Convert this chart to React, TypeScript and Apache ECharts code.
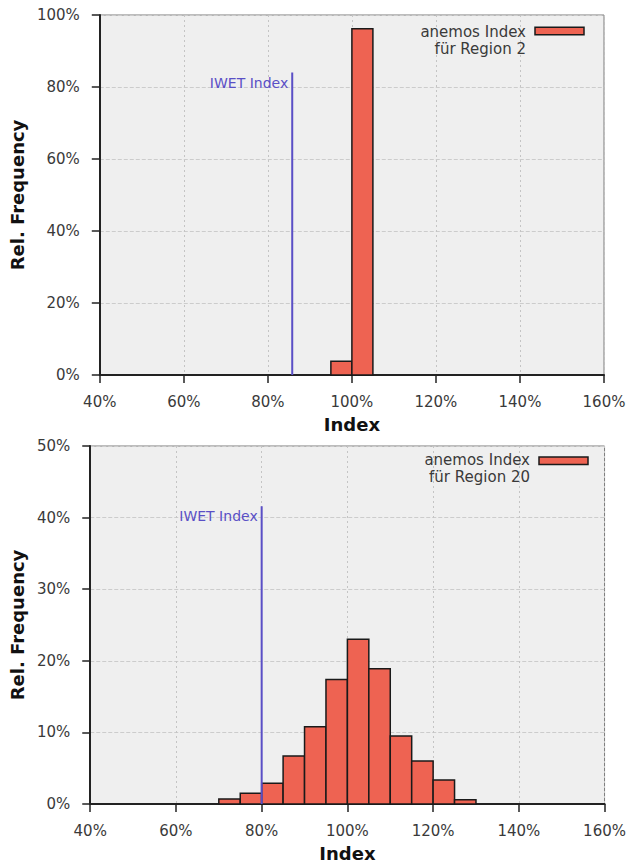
import React, { useEffect, useRef } from "react";
import * as echarts from "echarts";

// ---- data ----
const BIN_WIDTH = 5; // % per histogram bin
const xTicks = [40, 60, 80, 100, 120, 140, 160];

const region2Name = "anemos Index\nfür Region 2";
const region2BinStart = [95, 100];
const region2Freq = [3.8, 96.2];
const region2Iwet = 85.8; // IWET index (x)
const region2IwetTop = 84; // line height (y)

const region20Name = "anemos Index\nfür Region 20";
const region20BinStart = [70, 75, 80, 85, 90, 95, 100, 105, 110, 115, 120, 125];
const region20Freq = [0.7, 1.5, 2.9, 6.7, 10.8, 17.4, 23.0, 18.9, 9.5, 6.0, 3.35, 0.6];
const region20Iwet = 80;
const region20IwetTop = 41.6;

const iwetLabel = "IWET Index";

const FONT = "DejaVu Sans";
const BAR_COLOR = "#ee6352";
const IWET_COLOR = "#5a4fc6";

export default function App() {
  const ref = useRef<HTMLDivElement>(null);
  useEffect(() => {
    if (!ref.current) return;
    const chart = echarts.init(ref.current, null, { renderer: "svg" });

    const histData = (starts: number[], freq: number[]) =>
      starts.map((s, i) => [s, s + BIN_WIDTH, freq[i]]);

    const renderBin = (params: any, api: any) => {
      const x0 = api.value(0);
      const x1 = api.value(1);
      const y = api.value(2);
      const p0 = api.coord([x0, y]);
      const p1 = api.coord([x1, 0]);
      return {
        type: "rect",
        shape: { x: p0[0], y: p0[1], width: p1[0] - p0[0], height: p1[1] - p0[1] },
        style: { fill: BAR_COLOR, stroke: "#1a1a1a", lineWidth: 1.5 },
      };
    };

    const renderIwet = (params: any, api: any) => {
      const x = api.value(0);
      const top = api.value(1);
      const p0 = api.coord([x, 0]);
      const p1 = api.coord([x, top]);
      return {
        type: "group",
        children: [
          {
            type: "line",
            shape: { x1: p0[0], y1: p0[1], x2: p1[0], y2: p1[1] },
            style: { stroke: IWET_COLOR, lineWidth: 2 },
          },
          {
            type: "text",
            x: p1[0] - 4,
            y: p1[1] + 10,
            style: {
              text: iwetLabel,
              align: "right",
              verticalAlign: "middle",
              fontFamily: FONT,
              fontSize: 14,
              fill: IWET_COLOR,
            },
          },
        ],
      };
    };

    const xAxisCommon = (gridIndex: number) => ({
      type: "value",
      gridIndex,
      min: xTicks[0],
      max: xTicks[xTicks.length - 1],
      interval: 20,
      name: "Index",
      nameLocation: "middle",
      nameGap: 40,
      nameTextStyle: { fontFamily: FONT, fontSize: 18, fontWeight: "bold", color: "#111" },
      axisLine: { show: true, lineStyle: { color: "#222", width: 2 } },
      axisTick: { show: true, length: 8, lineStyle: { color: "#222", width: 1.5 } },
      axisLabel: {
        formatter: "{value}%",
        margin: 19,
        fontFamily: FONT,
        fontSize: 15,
        color: "#3a3a3a",
        showMinLabel: true,
        showMaxLabel: true,
      },
      splitLine: { show: true, lineStyle: { color: "#c4c4c4", type: [2, 3], width: 1 } },
    });

    const yAxisCommon = (gridIndex: number, max: number, interval: number, nameGap: number) => ({
      type: "value",
      gridIndex,
      min: 0,
      max,
      interval,
      name: "Rel. Frequency",
      nameLocation: "middle",
      nameGap,
      nameTextStyle: { fontFamily: FONT, fontSize: 18, fontWeight: "bold", color: "#111" },
      axisLine: { show: true, lineStyle: { color: "#222", width: 2 } },
      axisTick: { show: true, length: 8, lineStyle: { color: "#222", width: 1.5 } },
      axisLabel: {
        formatter: "{value}%",
        margin: 20,
        fontFamily: FONT,
        fontSize: 15,
        color: "#3a3a3a",
      },
      splitLine: { show: true, lineStyle: { color: "#cccccc", type: [4, 2], width: 1 } },
    });

    const iwetSeries = (axisIndex: number, x: number, top: number) => ({
      type: "custom",
      name: iwetLabel,
      xAxisIndex: axisIndex,
      yAxisIndex: axisIndex,
      renderItem: renderIwet,
      encode: { x: 0, y: 1 },
      data: [[x, top]],
      z: 5,
    });

    const legendText = (x: number, y: number, text: string, lh: number) => ({
      type: "text",
      x,
      y,
      style: {
        text,
        align: "right",
        verticalAlign: "top",
        fontFamily: FONT,
        fontSize: 15,
        lineHeight: lh,
        fill: "#3a3a3a",
      },
      z: 10,
    });
    const legendSwatch = (x: number, y: number) => ({
      type: "rect",
      shape: { x, y, width: 49, height: 7.5 },
      style: { fill: BAR_COLOR, stroke: "#1a1a1a", lineWidth: 1.5 },
      z: 10,
    });

    chart.setOption({
      animation: false,
      grid: [
        {
          left: 96,
          right: 25,
          top: 15,
          height: 360,
          show: true,
          backgroundColor: "#efefef",
          borderColor: "#7a7a7a",
          borderWidth: 1,
        },
        {
          left: 89,
          right: 21,
          top: 446,
          height: 358,
          show: true,
          backgroundColor: "#efefef",
          borderColor: "#7a7a7a",
          borderWidth: 1,
        },
      ],
      xAxis: [xAxisCommon(0), xAxisCommon(1)],
      yAxis: [yAxisCommon(0, 100, 20, 67), yAxisCommon(1, 50, 10, 60)],
      series: [
        {
          type: "custom",
          name: region2Name,
          xAxisIndex: 0,
          yAxisIndex: 0,
          renderItem: renderBin,
          encode: { x: [0, 1], y: 2 },
          data: histData(region2BinStart, region2Freq),
          z: 3,
        },
        {
          type: "custom",
          name: region20Name,
          xAxisIndex: 1,
          yAxisIndex: 1,
          renderItem: renderBin,
          encode: { x: [0, 1], y: 2 },
          data: histData(region20BinStart, region20Freq),
          z: 3,
        },
        iwetSeries(0, region2Iwet, region2IwetTop),
        iwetSeries(1, region20Iwet, region20IwetTop),
      ],
      graphic: [
        legendText(526, 23, region2Name, 17.6),
        legendSwatch(535, 27.3),
        legendText(530, 452, region20Name, 16.6),
        legendSwatch(539, 457),
      ],
    });

    return () => chart.dispose();
  }, []);

  return (
    <div
      ref={ref}
      style={{ position: "absolute", left: 0, top: 0, width: 629, height: 865, background: "#fff" }}
    />
  );
}
